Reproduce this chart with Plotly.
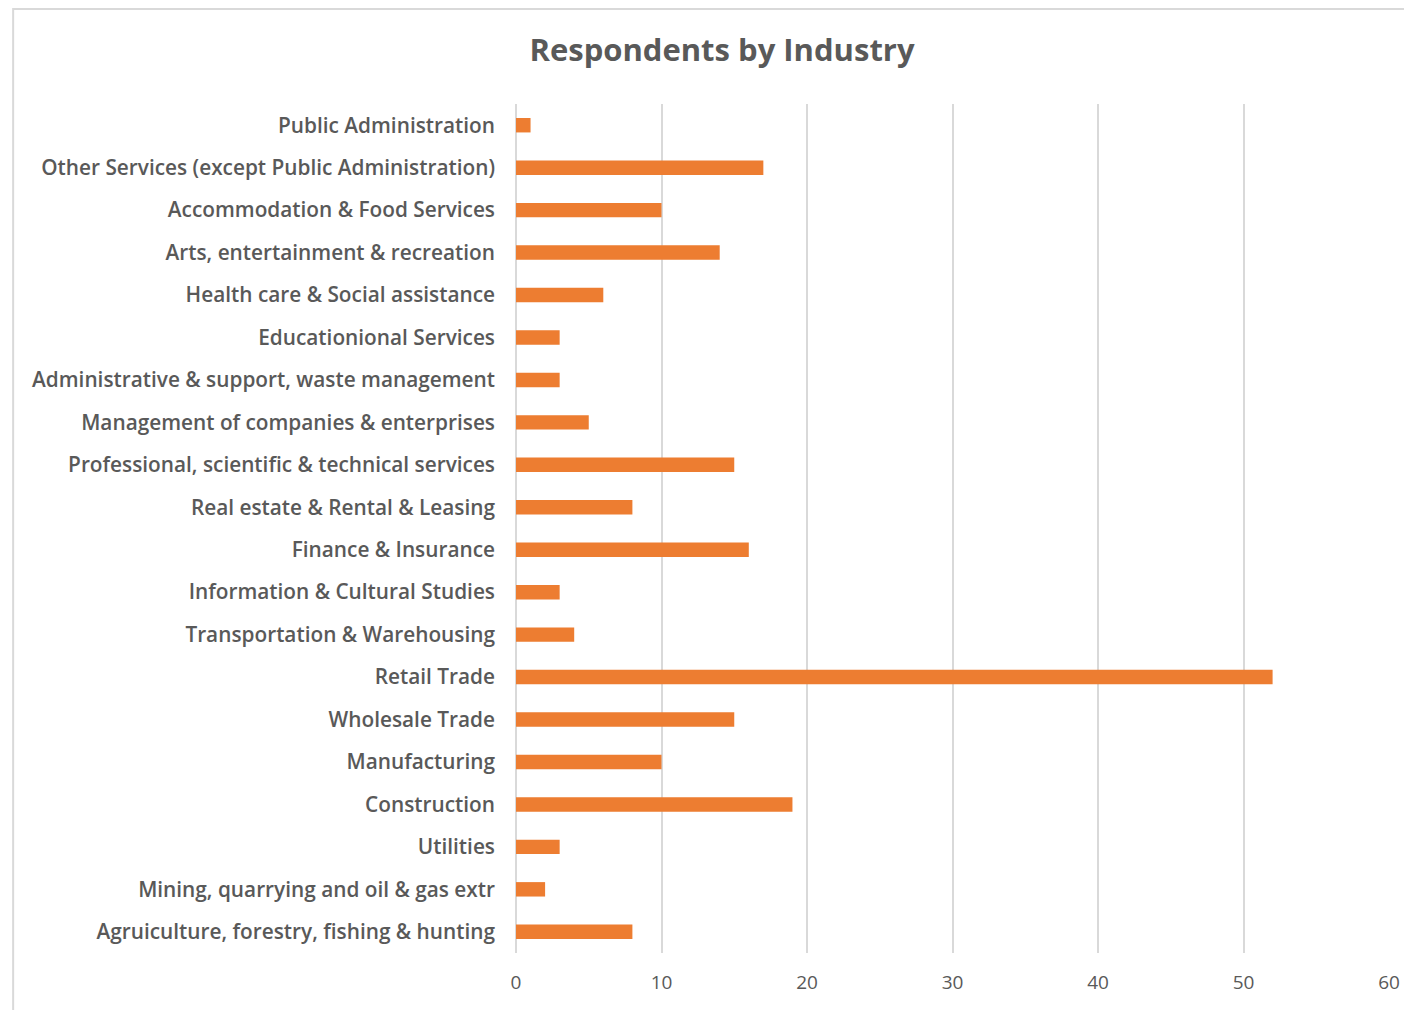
import plotly.graph_objects as go

categories = [
    "Agruiculture, forestry, fishing & hunting",
    "Mining, quarrying and oil & gas extr",
    "Utilities",
    "Construction",
    "Manufacturing",
    "Wholesale Trade",
    "Retail Trade",
    "Transportation & Warehousing",
    "Information & Cultural Studies",
    "Finance & Insurance",
    "Real estate & Rental & Leasing",
    "Professional, scientific & technical services",
    "Management of companies & enterprises",
    "Administrative & support, waste management",
    "Educationional Services",
    "Health care & Social assistance",
    "Arts, entertainment & recreation",
    "Accommodation & Food Services",
    "Other Services (except Public Administration)",
    "Public Administration",
]
values = [8, 2, 3, 19, 10, 15, 52, 4, 3, 16, 8, 15, 5, 3, 3, 6, 14, 10, 17, 1]
x_ticks = [0, 10, 20, 30, 40, 50, 60]

# page has an 8px body margin, so the figure is drawn 8px smaller
W, H = 1404, 1002
L, R, T, B = 508, 21, 96, 57
pw, ph = W - L - R, H - T - B

def px(x):
    return (x - L) / pw

def py(y):
    return (H - B - y) / ph

fig = go.Figure(go.Bar(
    x=values, y=categories, orientation="h",
    marker=dict(color="#ED7D31", line=dict(width=0)),
))

font_family = "'Open Sans', sans-serif"

fig.update_layout(
    width=W, height=H,
    margin=dict(l=L, r=R, t=T, b=B),
    paper_bgcolor="white", plot_bgcolor="white",
    bargap=0.66,
    showlegend=False,
    title=dict(
        text="<b>Respondents by Industry</b>",
        x=714 / W, xanchor="center", xref="container",
        y=1 - 42 / H, yanchor="middle", yref="container",
        font=dict(family=font_family, size=31, color="#595959"),
    ),
    xaxis=dict(
        range=[0, 60], tickvals=x_ticks, showgrid=True,
        gridcolor="#d9d9d9", gridwidth=2, zeroline=False,
        showline=False, ticks="",
        tickfont=dict(family=font_family, size=19, color="#595959"),
        ticklabelstandoff=16,
    ),
    yaxis=dict(
        categoryorder="array", categoryarray=categories,
        showgrid=False, zeroline=False, showline=False, ticks="",
        tickfont=dict(family=font_family, size=20.8, color="#595959", weight=600),
        ticklabelstandoff=20,
    ),
    shapes=[
        dict(type="line", xref="paper", yref="paper",
             x0=0, x1=0, y0=0, y1=1,
             line=dict(color="#d9d9d9", width=2), layer="below"),
        dict(type="rect", xref="paper", yref="paper",
             x0=px(4), x1=px(W + 20), y0=py(H + 20), y1=py(1),
             line=dict(color="#d9d9d9", width=2), layer="below"),
    ],
)

fig.write_html("out.html")
